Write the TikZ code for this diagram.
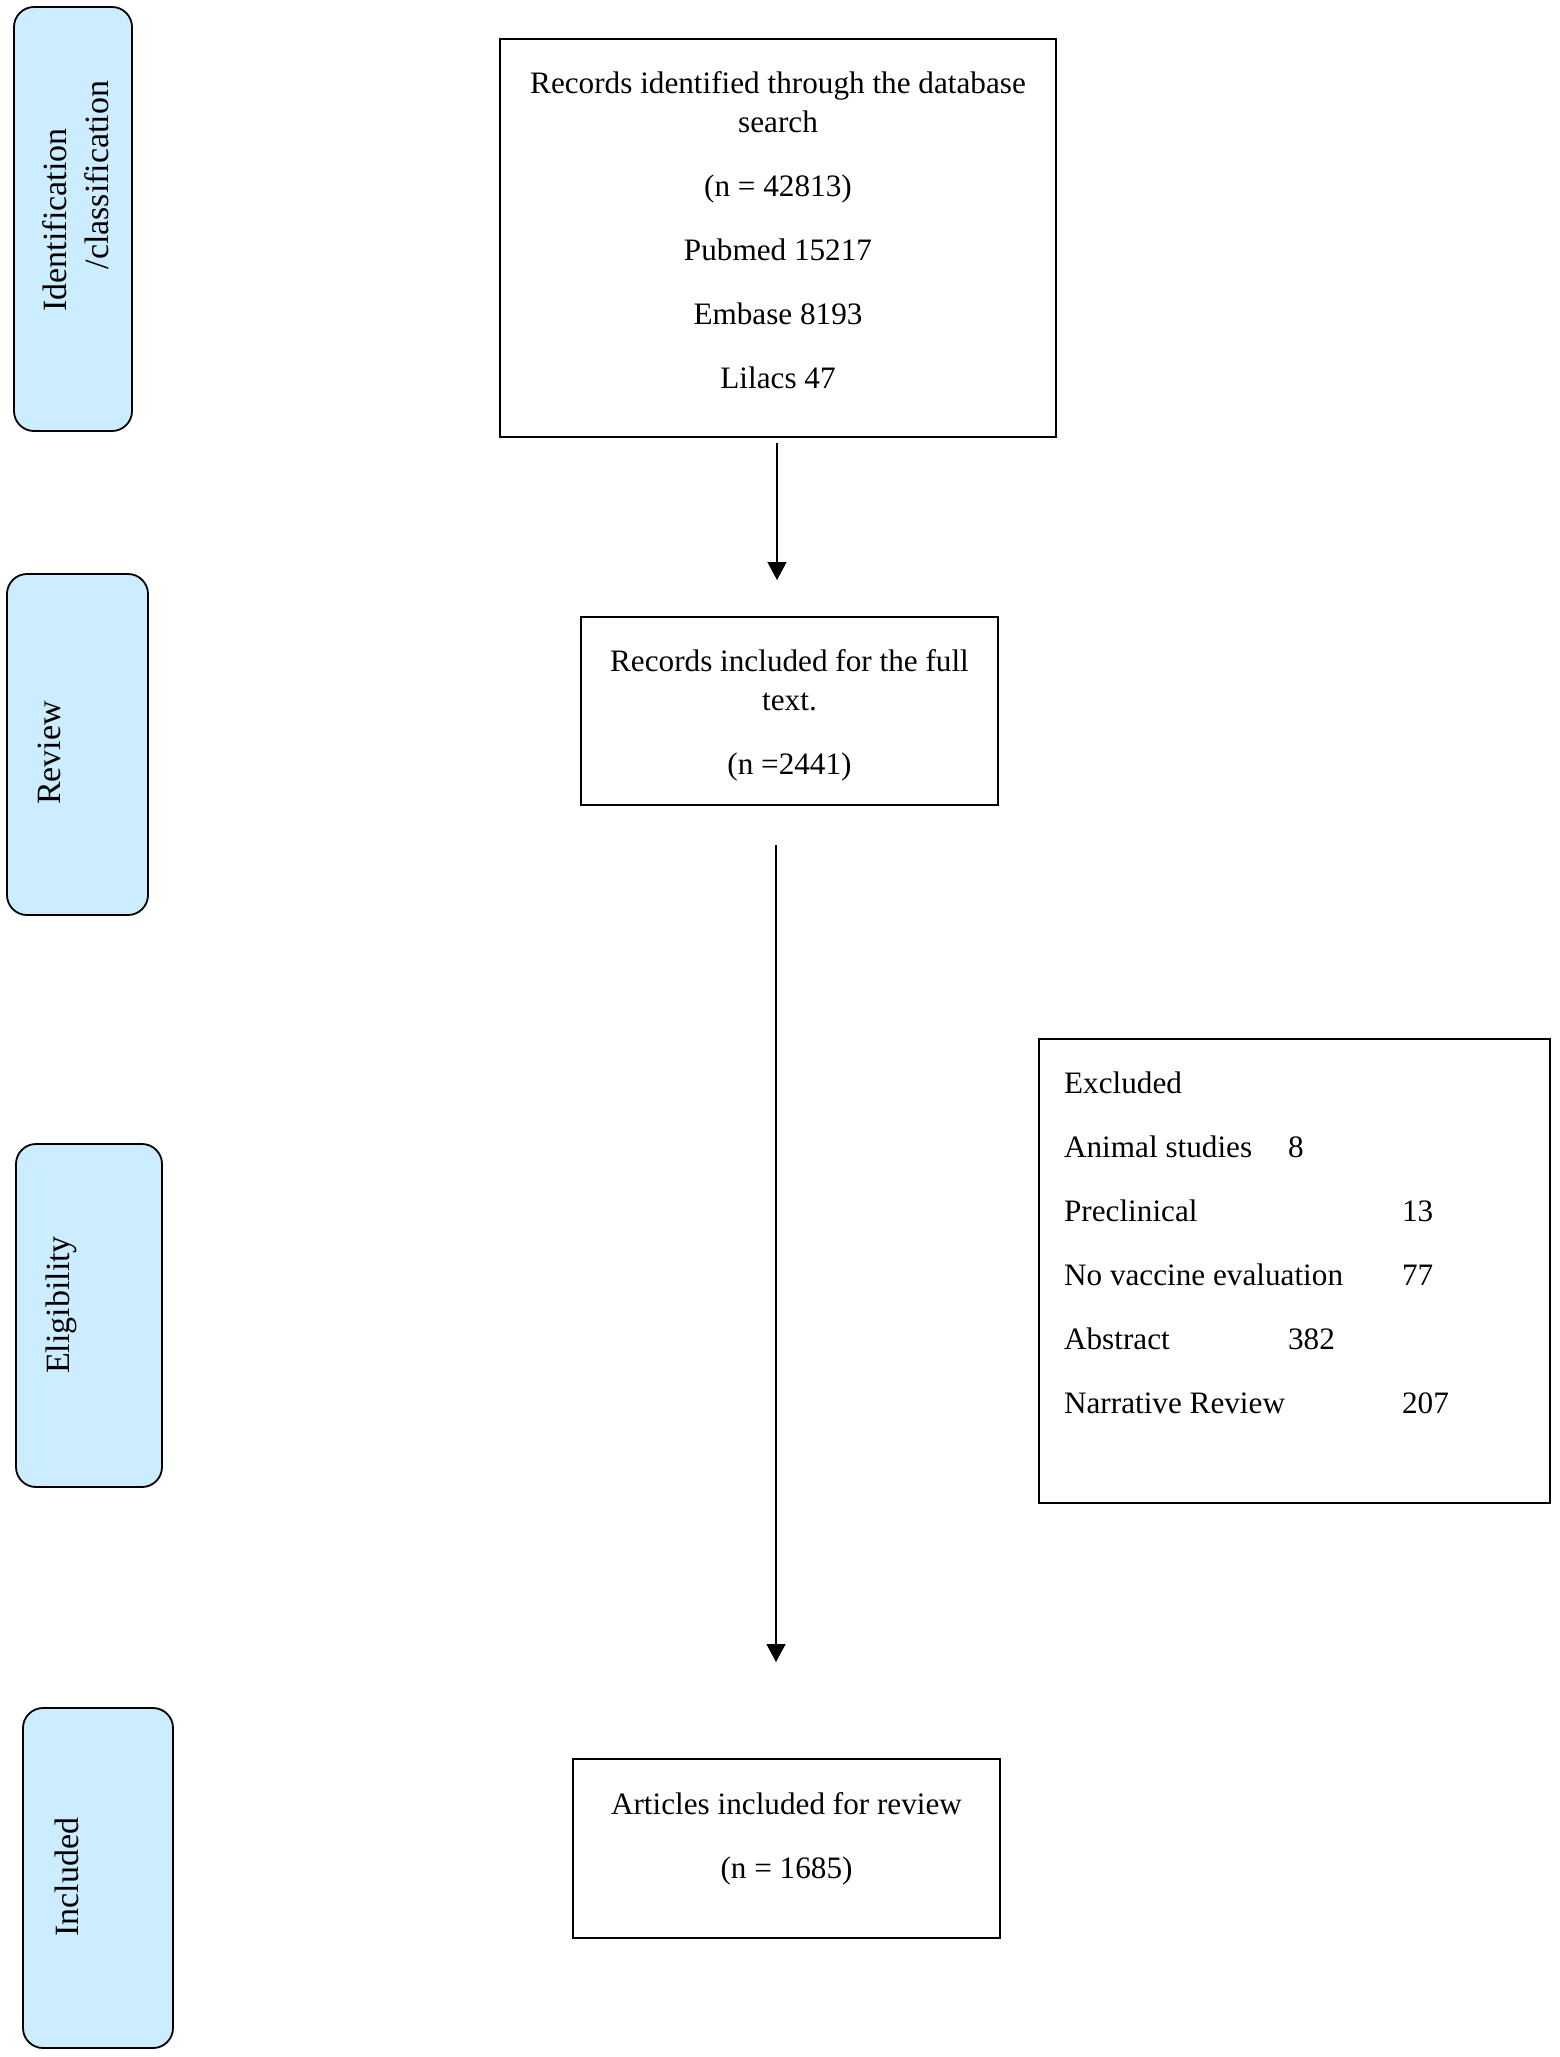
\documentclass[tikz,border=0pt]{standalone}
\usepackage{fontspec}
\setmainfont{Liberation Serif}
\usetikzlibrary{arrows.meta}
\definecolor{sidefill}{RGB}{204,236,255}
\newsavebox\offbox
\newcommand\offsettext[3]{\sbox\offbox{#3}\hbox to \wd\offbox{\kern#1\raisebox{#2}[\ht\offbox][\dp\offbox]{\usebox\offbox}\hss}}
\begin{document}
\begin{tikzpicture}[x=0.5pt,y=-0.5pt,
  mainbox/.style={draw=black, line width=1.2pt, fill=white, inner sep=0pt, font=\fontsize{15.6}{19.5}\selectfont},
  sidebox/.style={draw=black, line width=0.9pt, fill=sidefill, rounded corners=10pt, rotate=90, inner sep=0pt, font=\fontsize{17}{21.25}\selectfont},
  flow/.style={line width=0.7pt, -{Triangle[length=9pt,width=9.5pt]}}]
\useasboundingbox (0,0) rectangle (1559,2057);

% stage labels
\node[sidebox, minimum width=212pt, minimum height=59pt] (S1) at (73,219)
  {\offsettext{11.5pt}{-3pt}{\begin{tabular}{@{}l@{}}Identification\\\hspace*{21pt}/classification\end{tabular}}};
\node[sidebox, minimum width=170.5pt, minimum height=70.5pt] (S2) at (77.5,744.5)
  {\offsettext{-4.25pt}{14pt}{Review}};
\node[sidebox, minimum width=171.5pt, minimum height=73pt] (S3) at (89,1315.5)
  {\offsettext{5.25pt}{13.75pt}{Eligibility}};
\node[sidebox, minimum width=170pt, minimum height=75pt] (S4) at (98,1878)
  {\offsettext{0.5pt}{15.75pt}{Included}};

% flow boxes
\node[mainbox, minimum width=278pt, minimum height=199pt] (A) at (778,238)
  {\offsettext{0pt}{2.5pt}{\begin{tabular}{@{}c@{}}Records identified through the database\\search\\[12.5pt](n = 42813)\\[12.5pt]Pubmed 15217\\[12.5pt]Embase 8193\\[12.5pt]Lilacs 47\end{tabular}}};
\node[mainbox, minimum width=208.5pt, minimum height=94pt] (B) at (789.5,711)
  {\offsettext{0pt}{-2pt}{\begin{tabular}{@{}c@{}}Records included for the full\\text.\\[12.5pt](n =2441)\end{tabular}}};
\node[mainbox, minimum width=255.5pt, minimum height=232pt] (C) at (1294.5,1271)
  {\offsettext{-19pt}{12.9pt}{\begin{tabular}{@{}l@{}}Excluded\\[12.5pt]
   \makebox[112pt][l]{Animal studies}8\\[12.5pt]
   \makebox[169pt][l]{Preclinical}13\\[12.5pt]
   \makebox[169pt][l]{No vaccine evaluation}77\\[12.5pt]
   \makebox[112pt][l]{Abstract}382\\[12.5pt]
   \makebox[169pt][l]{Narrative Review}207\end{tabular}}};
\node[mainbox, minimum width=213.5pt, minimum height=89.5pt] (D) at (786.5,1848.5)
  {\offsettext{0pt}{4.75pt}{\begin{tabular}{@{}c@{}}Articles included for review\\[12.5pt](n = 1685)\end{tabular}}};

% connectors
\coordinate (a1s) at (777,443);
\coordinate (a1e) at (777,580);
\coordinate (a2s) at (776,845);
\coordinate (a2e) at (776,1662);
\draw[flow] (a1s) -- (a1e);
\draw[flow] (a2s) -- (a2e);
\end{tikzpicture}
\end{document}
